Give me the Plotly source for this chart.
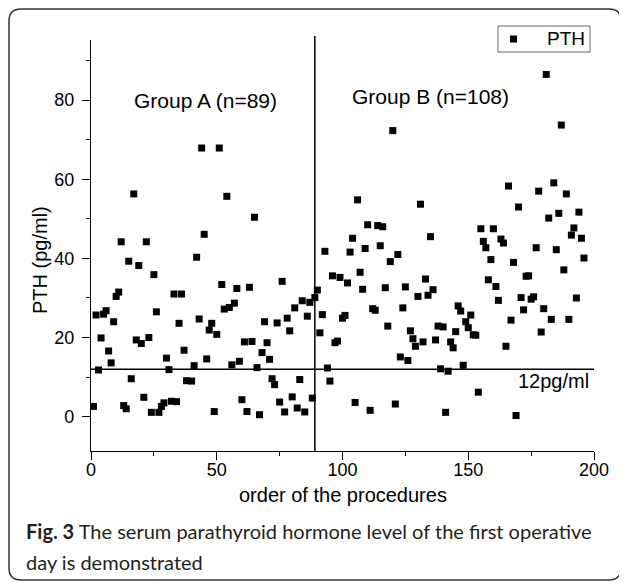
import plotly.graph_objects as go

# ---- data ----
group_a_order = list(range(1, 39)) + list(range(40, 90))
group_a_pth = [2.6, 25.7, 11.8, 19.9, 25.9, 26.8, 16.6, 13.6, 24.0, 30.4,
               31.5, 44.2, 2.8, 2.0, 39.3, 9.6, 56.3, 19.4, 38.2, 18.5,
               4.9, 44.2, 20.0, 1.1, 35.9, 26.5, 1.1, 2.6, 3.5, 14.8,
               11.9, 3.9, 31.0, 3.8, 23.6, 31.0, 16.8, 9.1, 9.0, 12.9,
               40.3, 24.7, 67.9, 46.1, 14.6, 21.9, 23.6, 1.3, 20.8, 67.9,
               33.4, 27.2, 55.7, 27.6, 13.1, 28.7, 32.4, 14.0, 4.3, 18.9,
               1.3, 32.7, 19.0, 50.4, 12.4, 0.5, 16.2, 24.0, 18.7, 14.5,
               9.6, 8.1, 23.7, 3.7, 34.2, 1.2, 24.9, 21.7, 5.0, 27.5,
               2.2, 9.4, 29.3, 1.2, 25.4, 28.9, 4.7, 30.1]

group_b_order = list(range(90, 197))
group_b_pth = [32.0, 21.2, 25.8, 41.8, 12.3, 9.0, 35.6, 18.7, 19.1, 35.2,
               24.9, 25.6, 33.8, 41.6, 45.1, 3.6, 54.8, 36.5, 32.2, 42.5,
               48.5, 1.6, 27.3, 26.9, 48.3, 43.2, 48.0, 32.6, 22.9, 39.2,
               72.3, 3.2, 41.0, 15.1, 27.5, 32.8, 14.2, 21.7, 19.7, 17.8,
               30.4, 53.7, 18.9, 34.8, 30.7, 45.5, 32.1, 19.4, 22.9, 12.1,
               22.7, 1.1, 11.5, 18.9, 17.4, 21.5, 28.0, 26.7, 13.0, 24.0,
               22.5, 25.7, 20.7, 20.6, 6.2, 47.5, 44.3, 42.7, 34.6, 39.7,
               47.5, 32.9, 29.4, 44.9, 43.9, 17.8, 58.3, 24.4, 39.0, 0.3,
               53.0, 30.1, 27.0, 35.5, 35.6, 29.7, 30.3, 42.7, 57.0, 21.4,
               27.3, 86.5, 50.2, 24.6, 59.1, 42.2, 51.4, 73.7, 37.1, 56.3,
               24.6, 45.9, 47.7, 30.0, 51.7, 45.1, 40.1]

x_ticks = [0, 50, 100, 150, 200]
y_ticks = [0, 20, 40, 60, 80]
threshold = 12
group_split = 89

# page has an 8px body margin: work in page pixels, convert to figure paper coords
OFF = 8
W, H = 627 - OFF, 584 - OFF
L, T = 91 - OFF, 40 - OFF
PW, PH = 503, 411
R, B = W - L - PW, H - T - PH


def px(xp):
    return (xp - OFF - L) / PW


def py(yp):
    return (T + PH - (yp - OFF)) / PH


FONT = "Liberation Sans, Arial, sans-serif"
CAP_FONT = "Lato, Noto Sans, sans-serif"

fig = go.Figure()
fig.add_trace(go.Scatter(
    x=group_a_order + group_b_order,
    y=group_a_pth + group_b_pth,
    mode="markers",
    name="PTH",
    showlegend=False,
    marker=dict(symbol="square", size=7, color="black", line=dict(width=0)),
))

axis_common = dict(
    showline=True, linecolor="black", linewidth=1.3,
    ticks="outside", ticklen=8, tickwidth=1.3, tickcolor="black",
    showgrid=False, zeroline=False,
    tickfont=dict(family=FONT, size=18, color="black"),
)

fig.update_xaxes(range=[0, 200], tickvals=x_ticks, ticklabelstandoff=-6,
                 minor=dict(dtick=25, tick0=0, ticks="outside", ticklen=4,
                            tickwidth=1.3, tickcolor="black"),
                 **axis_common)
fig.update_yaxes(range=[-8.67, 95.2], tickvals=y_ticks, ticklabelstandoff=4,
                 minor=dict(dtick=10, tick0=0, ticks="outside", ticklen=4,
                            tickwidth=1.3, tickcolor="black"),
                 **axis_common)

shapes = [
    # threshold line
    dict(type="line", xref="x", yref="y", x0=0, x1=200, y0=threshold, y1=threshold,
         line=dict(color="black", width=1.5)),
    # group divider
    dict(type="line", xref="paper", yref="paper", x0=group_split / 200, x1=group_split / 200,
         y0=0, y1=py(36), line=dict(color="black", width=1.5)),
    # legend box
    dict(type="rect", xref="paper", yref="paper", x0=px(498), x1=px(590), y0=py(26), y1=py(52),
         line=dict(color="#666666", width=1), fillcolor="white"),
    # legend symbol
    dict(type="rect", xref="paper", yref="paper", x0=px(510), x1=px(517), y0=py(35.5), y1=py(42.5),
         line=dict(width=0), fillcolor="black"),
    # outer rounded frame
    dict(type="path", xref="paper", yref="paper",
         path=(f"M {px(21)} {py(9)} L {px(609)} {py(9)} "
               f"Q {px(621)} {py(9)} {px(621)} {py(21)} "
               f"L {px(621)} {py(568)} Q {px(621)} {py(580)} {px(609)} {py(580)} "
               f"L {px(21)} {py(580)} Q {px(9)} {py(580)} {px(9)} {py(568)} "
               f"L {px(9)} {py(21)} Q {px(9)} {py(9)} {px(21)} {py(9)} Z"),
         line=dict(color="#333333", width=1.5)),
]


def paper_text(text, xp, yp, size, family=FONT, xanchor="center", angle=0, color="black"):
    return dict(text=text, xref="paper", yref="paper", x=px(xp), y=py(yp),
                xanchor=xanchor, yanchor="middle", textangle=angle, showarrow=False,
                font=dict(family=family, size=size, color=color))


annotations = [
    dict(text="Group A (n=89)", xref="x", yref="y", x=45.5, y=80, showarrow=False,
         xanchor="center", yanchor="middle",
         font=dict(family=FONT, size=21, color="black")),
    dict(text="Group B (n=108)", xref="x", yref="y", x=135, y=81, showarrow=False,
         xanchor="center", yanchor="middle",
         font=dict(family=FONT, size=21, color="black")),
    dict(text="12pg/ml", xref="x", yref="y", x=184, y=9, showarrow=False,
         xanchor="center", yanchor="middle",
         font=dict(family=FONT, size=20, color="black")),
    paper_text("PTH", 566, 39, 19),
    paper_text("order of the procedures", 343, 495, 20),
    paper_text("PTH (pg/ml)", 40, 260, 20, angle=-90),
    paper_text("<b>Fig. 3</b> The serum parathyroid hormone level of the first operative",
               24, 531, 20, family=CAP_FONT, xanchor="left", color="#231f20"),
    paper_text("day is demonstrated", 24, 562, 20, family=CAP_FONT, xanchor="left",
               color="#231f20"),
]

fig.update_layout(
    width=W, height=H,
    margin=dict(l=L, r=R, t=T, b=B, autoexpand=False),
    paper_bgcolor="white", plot_bgcolor="white",
    shapes=shapes, annotations=annotations,
    showlegend=False,
)

fig.write_html("out.html")
